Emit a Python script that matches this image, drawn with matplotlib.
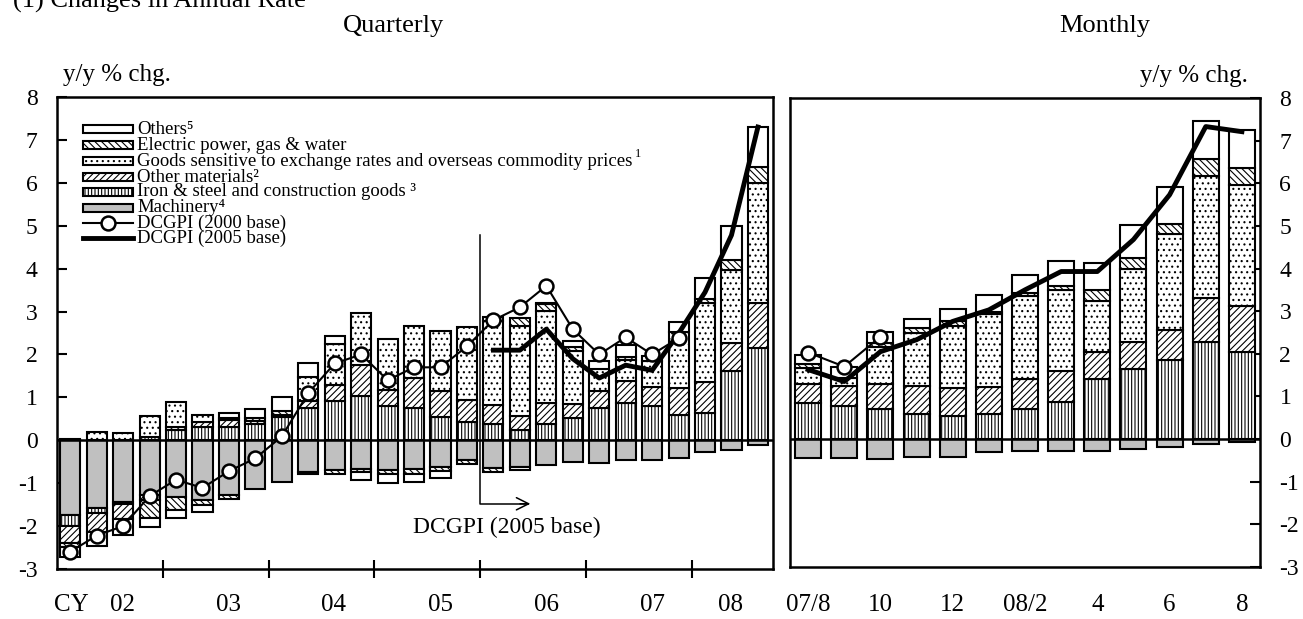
import numpy as np
import matplotlib.pyplot as plt
from matplotlib.patches import Rectangle
from matplotlib.lines import Line2D
from matplotlib.transforms import blended_transform_factory

plt.rcParams['font.family'] = ['Liberation Serif', 'DejaVu Serif']
plt.rcParams['axes.unicode_minus'] = False
plt.rcParams['hatch.linewidth'] = 0.8

# contributions to y/y % chg., quarterly 2002Q1 - 2008Q3
q_machinery = [-1.75, -1.58, -1.45, -1.28, -1.32, -1.40, -1.28, -1.14, -0.98, -0.74, -0.70, -0.66, -0.70, -0.68,
               -0.62, -0.47, -0.65, -0.62, -0.58, -0.51, -0.54, -0.47, -0.46, -0.42, -0.28, -0.23, -0.10]
q_iron = [-0.25, -0.12, -0.03, 0.08, 0.25, 0.30, 0.30, 0.37, 0.55, 0.75, 0.91, 1.03, 0.80, 0.75,
          0.55, 0.42, 0.37, 0.25, 0.37, 0.52, 0.76, 0.87, 0.80, 0.60, 0.64, 1.61, 2.14]
q_other_mat = [-0.40, -0.44, -0.35, -0.12, 0.06, 0.13, 0.17, 0.08, 0.05, 0.17, 0.37, 0.72, 0.38, 0.70,
               0.60, 0.53, 0.45, 0.32, 0.50, 0.33, 0.38, 0.50, 0.45, 0.62, 0.71, 0.66, 1.05]
q_goods = [0.02, 0.20, 0.16, 0.48, 0.58, 0.17, 0.05, 0.00, 0.00, 0.55, 0.96, 1.21, 1.17, 1.21,
           1.40, 1.68, 1.95, 2.10, 2.14, 1.22, 0.53, 0.50, 0.60, 1.30, 1.85, 1.70, 2.80]
q_electric = [-0.08, 0.00, 0.00, -0.42, -0.30, -0.12, -0.10, 0.08, 0.08, -0.05, -0.08, -0.08, -0.08, -0.10,
              -0.10, -0.09, -0.10, 0.19, 0.16, 0.10, 0.00, 0.08, 0.00, 0.00, 0.10, 0.24, 0.37]
q_others = [-0.25, -0.33, -0.38, -0.20, -0.18, -0.15, 0.12, 0.19, 0.32, 0.32, 0.20, -0.19, -0.22, -0.19,
            -0.17, 0.00, 0.10, -0.08, 0.02, 0.14, 0.17, 0.26, 0.12, 0.23, 0.48, 0.78, 0.94]
q_dcgpi_2000 = [-2.60, -2.22, -2.00, -1.30, -0.92, -1.11, -0.72, -0.42, 0.09, 1.10, 1.79, 2.00,
                1.40, 1.70, 1.70, 2.19, 2.80, 3.10, 3.60, 2.59, 2.00, 2.40, 2.00, 2.38]
q_dcgpi_2005 = [2.10, 2.10, 2.59, 1.90, 1.45, 1.75, 1.63, 2.49, 3.45, 4.78, 7.30]  # from 2006Q1
q_year_labels = ['CY', '02', '03', '04', '05', '06', '07', '08']

# monthly 2007/8 - 2008/8
m_machinery = [-0.44, -0.44, -0.46, -0.41, -0.41, -0.30, -0.28, -0.28, -0.27, -0.23, -0.18, -0.11, -0.06]
m_iron = [0.85, 0.77, 0.70, 0.59, 0.55, 0.58, 0.71, 0.86, 1.42, 1.64, 1.86, 2.27, 2.04]
m_other_mat = [0.45, 0.47, 0.60, 0.66, 0.64, 0.65, 0.69, 0.74, 0.62, 0.63, 0.71, 1.04, 1.08]
m_goods = [0.37, 0.20, 0.85, 1.25, 1.47, 1.70, 1.95, 1.90, 1.20, 1.72, 2.23, 2.85, 2.83]
m_electric = [0.08, 0.00, 0.10, 0.10, 0.10, 0.06, 0.08, 0.08, 0.25, 0.25, 0.25, 0.40, 0.40]
m_others = [0.23, 0.26, 0.25, 0.22, 0.30, 0.40, 0.43, 0.59, 0.65, 0.77, 0.87, 0.90, 0.89]
m_dcgpi_2000 = [2.03, 1.70, 2.40]
m_dcgpi_2005 = [1.63, 1.35, 2.05, 2.33, 2.76, 3.03, 3.50, 3.93, 3.93, 4.68, 5.73, 7.33, 7.21]
m_labels = ['07/8', '', '10', '', '12', '', '08/2', '', '4', '', '6', '', '8']

legend_names = ['Others\u2075',
                'Electric power, gas & water',
                'Goods sensitive to exchange rates and overseas commodity prices',
                'Other materials\u00b2',
                'Iron & steel and construction goods \u00b3',
                'Machinery\u2074']

# bar styles, stacking order from the zero line outwards
styles = [dict(facecolor='#c0c0c0', hatch=None),
          dict(facecolor='white', hatch='|||||'),
          dict(facecolor='white', hatch='/////'),
          dict(facecolor='white', hatch='...'),
          dict(facecolor='white', hatch='\\\\\\\\\\'),
          dict(facecolor='white', hatch=None)]

W, H = 1303, 619


def stack_bars(ax, comps, width):
    x = np.arange(len(comps[0]))
    pos = np.zeros(len(x))
    neg = np.zeros(len(x))
    for vals, st in zip(comps, styles):
        v = np.array(vals, dtype=float)
        m = v != 0
        bottom = np.where(v >= 0, pos, neg)
        ax.bar(x[m], v[m], width, bottom=bottom[m], edgecolor='black', linewidth=1.5, zorder=2, **st)
        pos += np.clip(v, 0, None)
        neg += np.clip(v, None, 0)


fig = plt.figure(figsize=(W / 100, H / 100), dpi=100)
ax = fig.add_axes([57 / W, 1 - 569 / H, 716 / W, 472 / H])
ax2 = fig.add_axes([790 / W, 1 - 567 / H, 470 / W, 469 / H])

# ---- quarterly panel
stack_bars(ax, [q_machinery, q_iron, q_other_mat, q_goods, q_electric, q_others], 0.76)
ax.axhline(0, color='black', lw=1.8, zorder=3)
ax.plot(np.arange(len(q_dcgpi_2000)), q_dcgpi_2000, color='black', lw=1.5, marker='o', ms=10,
        mfc='white', mec='black', mew=1.8, zorder=5)
ax.plot(np.arange(16, 16 + len(q_dcgpi_2005)), q_dcgpi_2005, color='black', lw=3.5, zorder=4)
ax.set_xlim(-0.5, 26.57)
ax.set_ylim(-3, 8)
ax.set_yticks(range(-3, 9))
ax.set_xticks([3.5, 7.5, 11.5, 15.5, 19.5, 23.5])
ax.tick_params(axis='x', direction='inout', length=13, width=1.5, labelbottom=False)
ax.tick_params(axis='y', direction='in', length=7, width=1.5, labelsize=17, pad=14)
for s in ax.spines.values():
    s.set_linewidth(1.8)

tr = blended_transform_factory(ax.transData, ax.transAxes)
for xp, lab in zip([0.05, 1.97, 5.97, 9.94, 14.0, 18.0, 22.0, 24.95], q_year_labels):
    ax.text(xp, -0.076, lab, transform=tr, ha='center', va='center', fontsize=18, clip_on=False)

# base change marker
ax.plot([15.5, 15.5, 17.3], [4.78, -1.48, -1.48], color='black', lw=1.1, zorder=3)
ax.annotate('', xy=(17.5, -1.48), xytext=(16.9, -1.48),
            arrowprops=dict(arrowstyle='->', color='black', lw=1.1, mutation_scale=22), zorder=3)
ax.text(16.5, -2.03, 'DCGPI (2005 base)', ha='center', va='center', fontsize=17)

# legend drawn by hand
rows = [129, 145, 161, 177, 192, 208, 223, 238]
tA = ax.transAxes


def ax_y(py):
    return (569 - py) / 472


def ax_x(px):
    return (px - 57) / 716


for name, st, py in zip(legend_names, styles[::-1], rows[:6]):
    ax.add_patch(Rectangle((ax_x(83), ax_y(py + 4)), ax_x(133) - ax_x(83), 8 / 472, transform=tA,
                           edgecolor='black', linewidth=1.5, zorder=6, **st))
    ax.text(ax_x(137), ax_y(py), name, transform=tA, ha='left', va='center', fontsize=13.5, zorder=6)
ax.text(ax_x(635), ax_y(rows[2] - 7), '1', transform=tA, ha='left', va='center', fontsize=9, zorder=6)
ax.add_line(Line2D([ax_x(83), ax_x(133)], [ax_y(rows[6])] * 2, transform=tA, color='black', lw=1.5,
                   zorder=6))
ax.add_line(Line2D([ax_x(108)], [ax_y(rows[6])], transform=tA, marker='o', ms=10, mfc='white',
                   mec='black', mew=1.8, zorder=7))
ax.text(ax_x(137), ax_y(rows[6]), 'DCGPI (2000 base)', transform=tA, ha='left', va='center', fontsize=13.5)
ax.add_line(Line2D([ax_x(83), ax_x(133)], [ax_y(rows[7])] * 2, transform=tA, color='black', lw=3.5,
                   zorder=6))
ax.text(ax_x(137), ax_y(rows[7]), 'DCGPI (2005 base)', transform=tA, ha='left', va='center', fontsize=13.5)

# ---- monthly panel
stack_bars(ax2, [m_machinery, m_iron, m_other_mat, m_goods, m_electric, m_others], 0.72)
ax2.axhline(0, color='black', lw=1.8, zorder=3)
ax2.plot(np.arange(len(m_dcgpi_2005)), m_dcgpi_2005, color='black', lw=3.5, zorder=4)
ax2.plot(np.arange(len(m_dcgpi_2000)), m_dcgpi_2000, color='black', lw=1.5, marker='o', ms=10,
         mfc='white', mec='black', mew=1.8, zorder=5)
ax2.set_xlim(-0.5, 12.5)
ax2.set_ylim(-3, 8)
ax2.set_yticks(range(-3, 9))
ax2.yaxis.tick_right()
ax2.tick_params(axis='y', direction='in', length=7, width=1.5, labelsize=17, pad=14)
ax2.set_xticks([])
for s in ax2.spines.values():
    s.set_linewidth(1.8)
tr2 = blended_transform_factory(ax2.transData, ax2.transAxes)
for xp, lab in enumerate(m_labels):
    if lab:
        ax2.text(xp, -0.08, lab, transform=tr2, ha='center', va='center', fontsize=18, clip_on=False)

# headings (section title runs off the top edge)
fig.text(13 / W, 1 - 8 / H, '(1) Changes in Annual Rate', ha='left', va='baseline', fontsize=19)
fig.text(394 / W, 1 - 26 / H, 'Quarterly', ha='center', va='center', fontsize=19)
fig.text(1105 / W, 1 - 26 / H, 'Monthly', ha='center', va='center', fontsize=19)
fig.text(63 / W, 1 - 75 / H, 'y/y % chg.', ha='left', va='center', fontsize=18)
fig.text(1248 / W, 1 - 76 / H, 'y/y % chg.', ha='right', va='center', fontsize=18)

fig.savefig('out.png', dpi=100)
